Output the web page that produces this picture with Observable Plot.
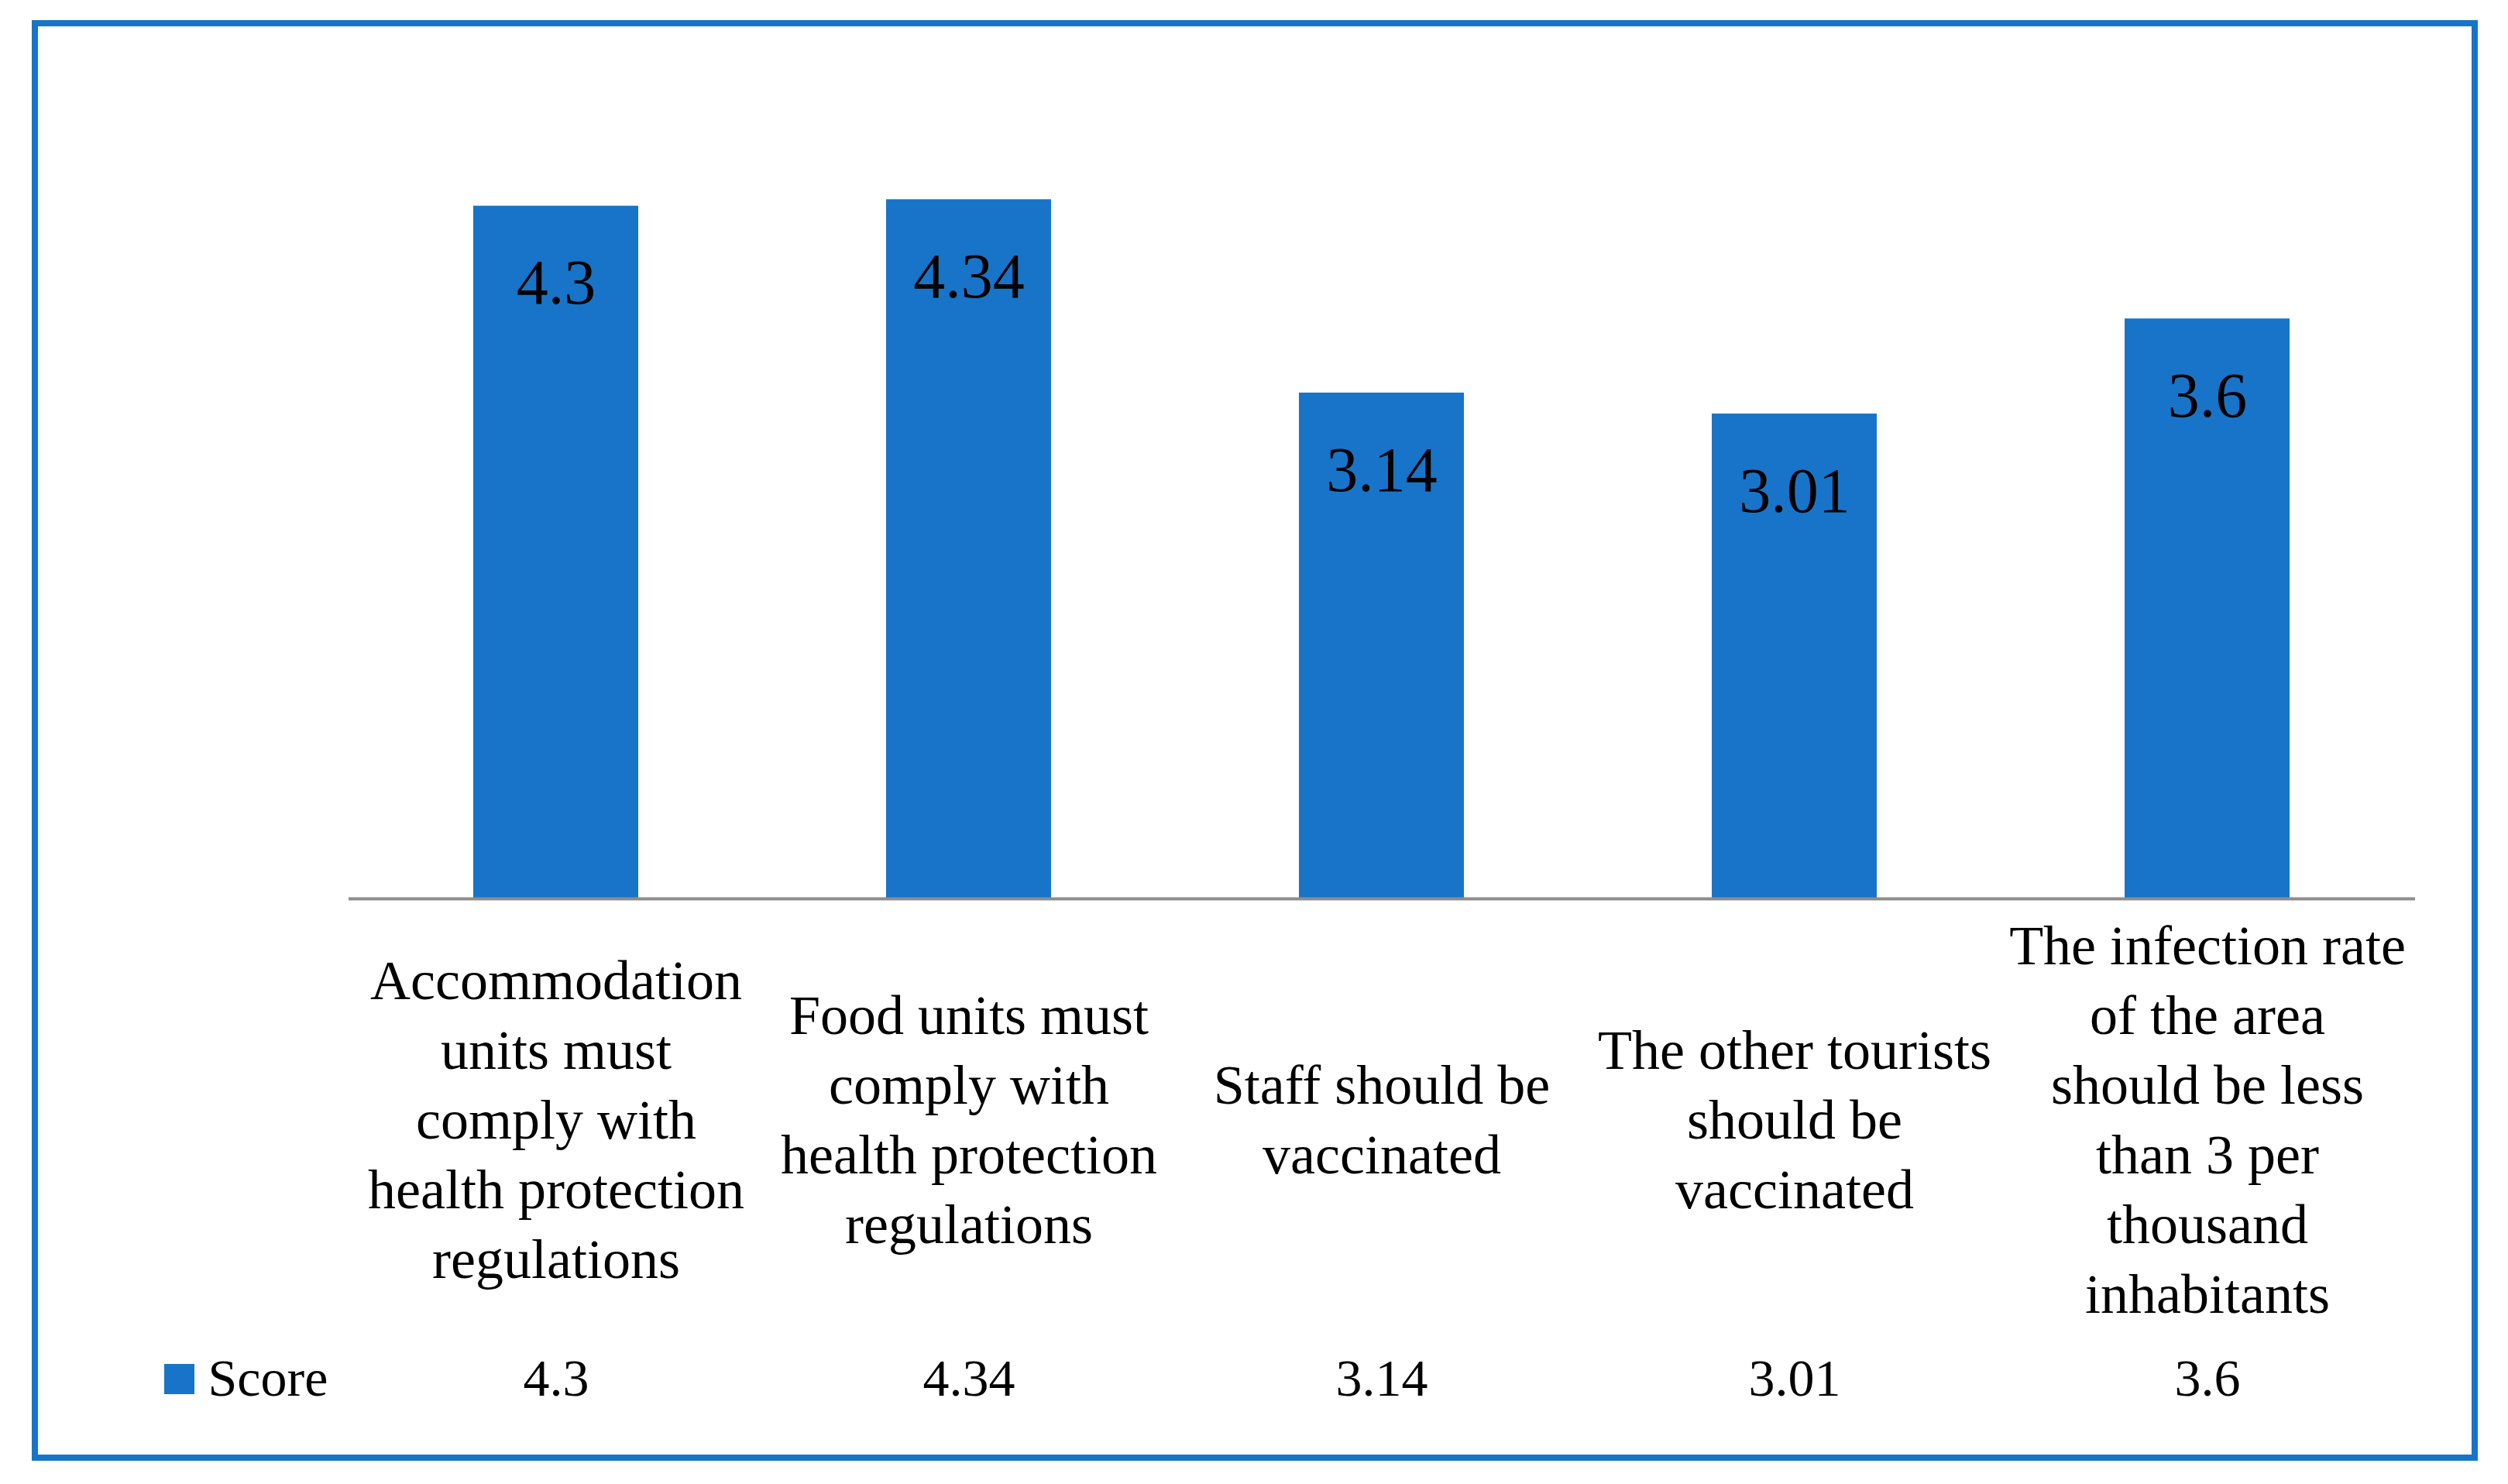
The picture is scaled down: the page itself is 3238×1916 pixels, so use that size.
<!DOCTYPE html>
<html>
<head>
<meta charset="utf-8">
<script src="https://cdn.jsdelivr.net/npm/d3@7"></script>
<script src="https://cdn.jsdelivr.net/npm/@observablehq/plot@0.6"></script>
<style>
  html, body { margin: 0; padding: 0; background: #fff; }
  #wrap { position: relative; width: 3238px; height: 1916px; }
  #border { position: absolute; left: 41px; top: 26px; width: 3142px; height: 1844px; border: 8px solid #1874c8; }
  #chart { position: absolute; left: 0; top: 0; }
</style>
</head>
<body>
<div id="wrap"><div id="border"></div><div id="chart"></div></div>
<script>
const categories = [
  "Accommodation\nunits must\ncomply with\nhealth protection\nregulations",
  "Food units must\ncomply with\nhealth protection\nregulations",
  "Staff should be\nvaccinated",
  "The other tourists\nshould be\nvaccinated",
  "The infection rate\nof the area\nshould be less\nthan 3 per\nthousand\ninhabitants"
];
const scores = [4.3, 4.34, 3.14, 3.01, 3.6];
const seriesName = "Score";
const barColor = "#1874c8";

const data = categories.map((c, i) => ({cat: c, value: scores[i]}));

const chart = Plot.plot({
  width: 3238,
  height: 1916,
  marginLeft: 450,
  marginRight: 120,
  marginTop: 120,
  marginBottom: 756,
  style: {fontFamily: "Liberation Serif", background: "transparent"},
  x: {type: "band", domain: categories, paddingInner: 0.6, paddingOuter: 0.3, axis: null},
  y: {domain: [0, 5], axis: null},
  marks: [
    Plot.barY(data, {x: "cat", y: "value", fill: barColor}),
    Plot.ruleY([0], {stroke: "#8c8c8c", strokeWidth: 4}),
    Plot.text(data, {x: "cat", y: "value", text: d => String(d.value), dy: 100, fontSize: 82, lineAnchor: "middle", fill: "#000"}),
    Plot.text(data, {x: "cat", text: "cat", frameAnchor: "bottom", dy: 281, fontSize: 72, lineHeight: 1.25, lineAnchor: "middle", fill: "#000"}),
    Plot.text(data, {x: "cat", text: d => String(d.value), frameAnchor: "bottom", dy: 620, fontSize: 68, lineAnchor: "middle", fill: "#000"}),
    Plot.text([seriesName], {frameAnchor: "bottom-left", dx: -182, dy: 620, textAnchor: "start", lineAnchor: "middle", fontSize: 68, fill: "#000"}),
    Plot.dot([seriesName], {frameAnchor: "bottom-left", dx: -219, dy: 620, symbol: "square", r: 22, fill: barColor, stroke: null})
  ]
});
document.getElementById("chart").appendChild(chart);
</script>
</body>
</html>
